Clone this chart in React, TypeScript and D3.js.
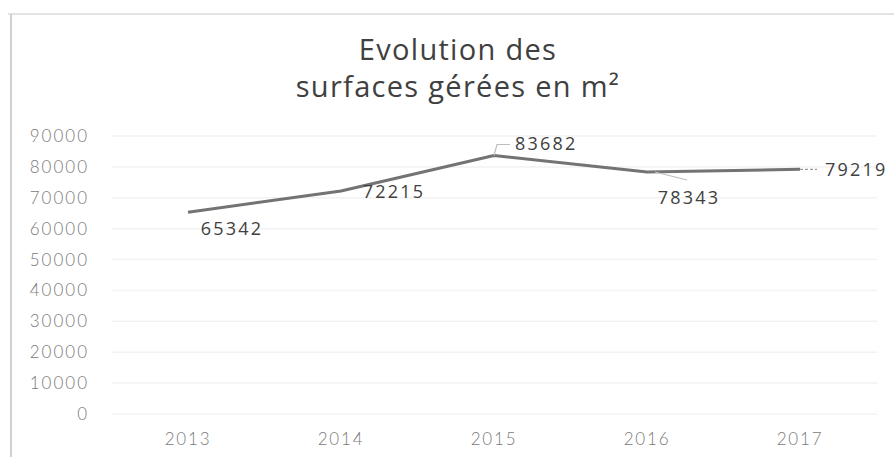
import React from "react";
import * as d3 from "d3";

const years = ["2013", "2014", "2015", "2016", "2017"];
const surfaces = [65342, 72215, 83682, 78343, 79219];
const yTicks = [0, 10000, 20000, 30000, 40000, 50000, 60000, 70000, 80000, 90000];
const titleLines = ["Evolution des", "surfaces gérées en m²"];

const W = 894;
const H = 457;

export default function App() {
  const x = d3.scalePoint<string>().domain(years).range([188, 800]);
  const y = d3.scaleLinear().domain([0, 90000]).range([414, 136]);
  const line = d3
    .line<number>()
    .x((_, i) => x(years[i]) as number)
    .y((d) => y(d));

  const axisFont = "Lato, 'DejaVu Sans', sans-serif";
  const labelFont = "'Open Sans', 'Noto Sans', sans-serif";

  const pts = surfaces.map((v, i) => ({ x: x(years[i]) as number, y: y(v), v }));

  return (
    <div style={{ position: "fixed", left: 0, top: 0, width: W, height: H, background: "#fff" }}>
      <svg width={W} height={H} style={{ display: "block" }}>
        <rect x={0} y={0} width={W} height={H} fill="#fff" />
        {/* scan border */}
        <line x1={8} x2={W} y1={14} y2={14} stroke="#e4e4e4" strokeWidth={2} />
        <line x1={11} x2={11} y1={14} y2={H} stroke="#d0d0d0" strokeWidth={2} />

        {/* title */}
        {titleLines.map((t, i) => (
          <text
            key={"t" + i}
            x={458}
            y={60 + i * 37}
            textAnchor="middle"
            fontFamily={labelFont}
            fontSize={29}
            fill="#404040"
            letterSpacing={1.3}
          >
            {t}
          </text>
        ))}

        {/* gridlines */}
        {yTicks.map((t) => (
          <line key={"g" + t} x1={112} x2={877} y1={y(t)} y2={y(t)} stroke="#f2f2f2" strokeWidth={1.5} />
        ))}

        {/* y tick labels */}
        {yTicks.map((t) => (
          <text
            key={"y" + t}
            x={89}
            y={y(t)}
            dy="0.35em"
            textAnchor="end"
            fontFamily={axisFont}
            fontWeight={300}
            fontSize={17}
            letterSpacing={2}
            fill="#7a7a7a"
          >
            {t}
          </text>
        ))}

        {/* x tick labels */}
        {years.map((yr) => (
          <text
            key={"x" + yr}
            x={x(yr) as number}
            y={439}
            dy="0.35em"
            textAnchor="middle"
            fontFamily={axisFont}
            fontWeight={300}
            fontSize={17}
            letterSpacing={1.8}
            fill="#7a7a7a"
          >
            {yr}
          </text>
        ))}

        {/* series line */}
        <path d={line(surfaces) || ""} fill="none" stroke="#737373" strokeWidth={3} strokeLinejoin="round" />

        {/* leader lines */}
        <path
          d={`M${pts[2].x},${pts[2].y} L${pts[2].x + 3},${pts[2].y - 11} L${pts[2].x + 16},${pts[2].y - 11}`}
          fill="none"
          stroke="#bdbdbd"
          strokeWidth={1.2}
        />
        <path
          d={`M${pts[3].x + 8},${pts[3].y} L${pts[3].x + 40},${pts[3].y + 8}`}
          fill="none"
          stroke="#bdbdbd"
          strokeWidth={1.2}
        />
        <path
          d={`M${pts[4].x},${pts[4].y} L${pts[4].x + 17},${pts[4].y}`}
          fill="none"
          stroke="#9a9a9a"
          strokeWidth={1.2}
          strokeDasharray="3 2"
        />

        {/* data labels */}
        {[
          { i: 0, dx: 44, dy: 17, anchor: "middle" },
          { i: 1, dx: 53, dy: 1, anchor: "middle" },
          { i: 2, dx: 21, dy: -12, anchor: "start" },
          { i: 3, dx: 42, dy: 26, anchor: "middle" },
          { i: 4, dx: 25, dy: 0, anchor: "start" },
        ].map((l) => (
          <text
            key={"l" + l.i}
            x={pts[l.i].x + l.dx}
            y={pts[l.i].y + l.dy}
            dy="0.35em"
            textAnchor={l.anchor as any}
            fontFamily={labelFont}
            fontSize={18}
            letterSpacing={2.2}
            fill="#404040"
          >
            {surfaces[l.i]}
          </text>
        ))}
      </svg>
    </div>
  );
}
